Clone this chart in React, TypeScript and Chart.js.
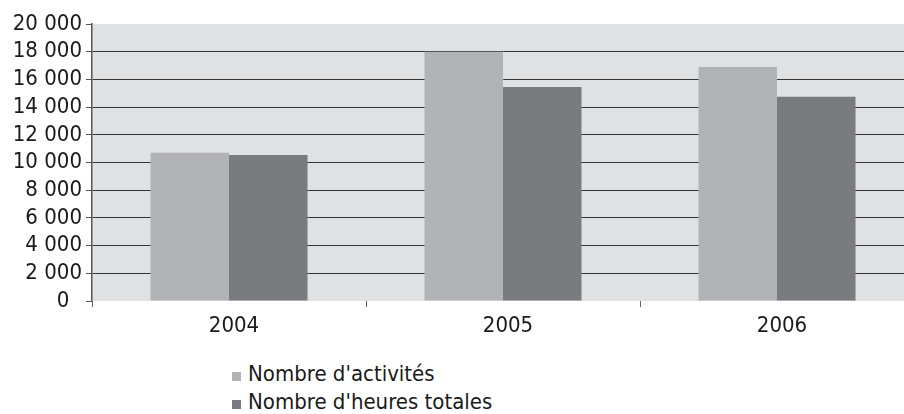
import React, { useEffect, useRef } from "react";
import { Chart, registerables } from "chart.js";

Chart.register(...registerables);

const categories = ["2004", "2005", "2006"];
const activites = [10700, 18000, 16900];
const heures = [10550, 15450, 14750];
const seriesNames = ["Nombre d'activités", "Nombre d'heures totales"];
const seriesColors = ["#b2b3b6", "#7a7b7f"];
const yMax = 20000;
const yStep = 2000;

const FONT = "'Liberation Sans Narrow', 'DejaVu Sans Condensed', 'Arial Narrow', sans-serif";

const fmt = (v: number) => (v === 0 ? "0  " : String(v).replace(/\B(?=(\d{3})+(?!\d))/g, " "));

const bgPlugin = {
  id: "plotBg",
  beforeDraw(chart: any) {
    const { ctx, chartArea } = chart;
    if (!chartArea) return;
    ctx.save();
    ctx.fillStyle = "#e0e1e3";
    ctx.fillRect(chartArea.left, chartArea.top, chartArea.right - chartArea.left, chartArea.bottom - chartArea.top);
    ctx.restore();
  },
};

export default function App() {
  const ref = useRef<HTMLCanvasElement | null>(null);
  useEffect(() => {
    document.body.style.margin = "0";
    const c = ref.current!;
    const chart = new Chart(c, {
      type: "bar",
      data: {
        labels: categories,
        datasets: [
          { label: seriesNames[0], data: activites, backgroundColor: seriesColors[0] },
          { label: seriesNames[1], data: heures, backgroundColor: seriesColors[1] },
        ],
      },
      options: {
        animation: false,
        responsive: false,
        maintainAspectRatio: false,
        layout: { padding: { top: 24, right: 4, left: 0, bottom: 0 } },
        datasets: { bar: { categoryPercentage: 0.573, barPercentage: 1 } },
        plugins: { legend: { display: false }, tooltip: { enabled: false } },
        scales: {
          x: {
            afterFit(scale: any) { scale.height = 44; },
            border: { display: false },
            grid: { offset: true, drawOnChartArea: false, drawTicks: true, tickLength: 6, color: "#666", lineWidth: 1 },
            ticks: { color: "#1a1a1a", font: { family: FONT, size: 22 }, padding: 6, labelOffset: 5 },
          },
          y: {
            min: 0,
            max: yMax,
            afterFit(scale: any) { scale.width = 92; },
            border: { display: true, color: "#555", width: 1.5 },
            grid: {
              color: (ctx: any) => (ctx.tick && (ctx.tick.value === 0 || ctx.tick.value === yMax) ? "rgba(0,0,0,0)" : "#333"),
              tickColor: "#555",
              tickLength: 6,
              lineWidth: 1,
            },
            ticks: {
              stepSize: yStep,
              autoSkip: false,
              color: "#1a1a1a",
              padding: 4,
              font: { family: FONT, size: 22 },
              callback: (v: any) => fmt(Number(v)),
            },
          },
        },
      },
      plugins: [bgPlugin],
    } as any);
    return () => chart.destroy();
  }, []);

  return (
    <div style={{ position: "fixed", left: 0, top: 0, width: 904, height: 414, overflow: "hidden", background: "#fff" }}>
      <canvas ref={ref} width={918} height={345} style={{ position: "absolute", left: 0, top: 0, width: 918, height: 345 }} />
      <div style={{ position: "absolute", left: 232, top: 360, fontFamily: FONT, fontSize: 22, lineHeight: "28px", color: "#1a1a1a", whiteSpace: "nowrap" }}>
        {seriesNames.map((n, i) => (
          <div key={n}>
            <span style={{ display: "inline-block", width: 9, height: 9, background: seriesColors[i], marginRight: 7 }} />
            {n}
          </div>
        ))}
      </div>
    </div>
  );
}
